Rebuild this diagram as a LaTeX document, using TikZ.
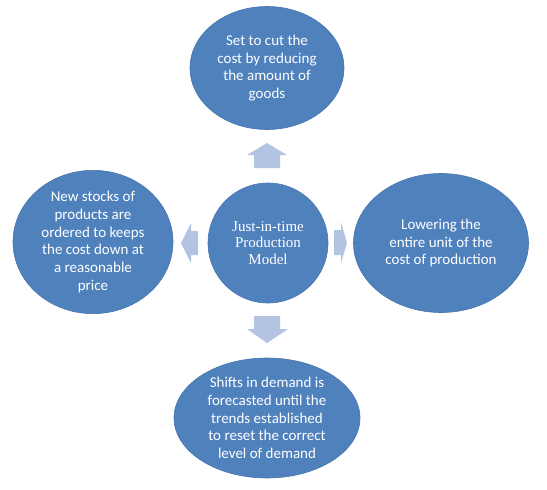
\documentclass[tikz,border=0pt]{standalone}
\usepackage{fontspec}
\setmainfont{Carlito}
\newfontfamily\centerfont{Liberation Serif}
\usetikzlibrary{shapes.geometric}
\definecolor{boxblue}{RGB}{79,129,189}
\definecolor{boxedge}{RGB}{72,118,175}
\definecolor{arrowblue}{RGB}{178,196,226}
\begin{document}
\begin{tikzpicture}[x=1pt,y=-1pt,
  bubble/.style={ellipse, fill=boxblue, draw=boxedge, line width=0.6pt, inner sep=0pt,
    text=white, align=center, font=\fontsize{15}{17.7}\selectfont},
  hub/.style={circle, fill=boxblue, draw=boxedge, line width=0.6pt, inner sep=0pt,
    minimum size=120pt, text=white, align=center, font=\centerfont\fontsize{15}{16.8}\selectfont},
  blockarrow/.style={fill=arrowblue, draw=none}]
\useasboundingbox (0,0) rectangle (547,490);
\node[hub] (hub) at (268,243) {Just-in-time\\Production\\Model};
\node[bubble, minimum width=154pt, minimum height=123pt] (top) at (267,68)
  {Set to cut the\\cost by reducing\\the amount of\\goods};
\node[bubble, minimum width=160pt, minimum height=135pt] (left) at (93,242)
  {New stocks of\\products are\\ordered to keeps\\the cost down at\\a reasonable\\price};
\node[bubble, minimum width=175pt, minimum height=139pt] (right) at (441,243)
  {Lowering the\\entire unit of the\\cost of production};
\node[bubble, minimum width=186pt, minimum height=120pt] (bottom) at (267,418)
  {Shifts in demand is\\forecasted until the\\trends established\\to reset the correct\\level of demand};
% block arrows
\fill[blockarrow] (267,143) -- (287,155) -- (280,155) -- (280,168) -- (254,168) -- (254,155) -- (247,155) -- cycle;
\fill[blockarrow] (181,243) -- (191,223) -- (191,231) -- (198,231) -- (198,255) -- (191,255) -- (191,263) -- cycle;
\fill[blockarrow] (347,243) -- (341,222) -- (341,230) -- (334,230) -- (334,255) -- (341,255) -- (341,263) -- cycle;
\fill[blockarrow] (267,343) -- (288,329) -- (280,329) -- (280,316) -- (254,316) -- (254,329) -- (247,329) -- cycle;
\end{tikzpicture}
\end{document}
